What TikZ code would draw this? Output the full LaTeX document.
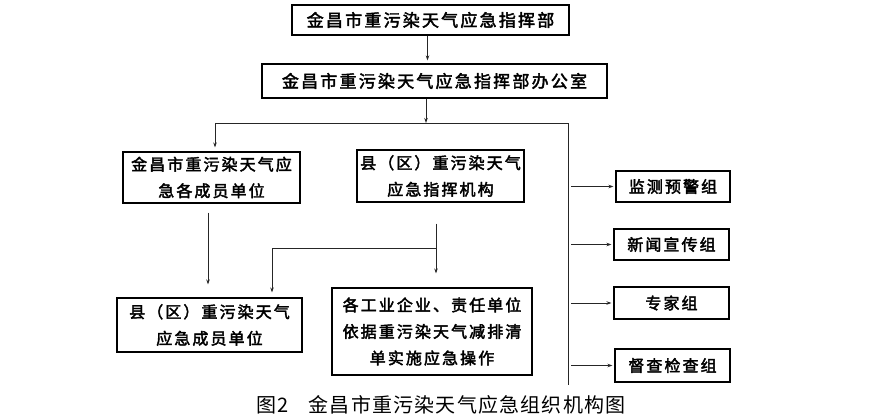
\documentclass[tikz,border=0pt]{standalone}
\usepackage{fontspec}
\setmainfont{Noto Sans CJK SC}
\newfontfamily\boxfont[LetterSpace=13,FakeBold=2.5]{Noto Sans CJK SC}
\newfontfamily\capfont[LetterSpace=6]{Noto Sans CJK SC}
\usetikzlibrary{arrows.meta}

\tikzset{
  box/.style={draw, line width=1.1pt, inner sep=0pt, align=center, font=\boxfont\fontsize{16}{26.5}\selectfont},
  topbox/.style={box, font=\boxfont\fontsize{17}{26}\selectfont},
  link/.style={draw=black!85, line width=0.9pt},
  arr/.style={link, -{Stealth[length=5pt,width=3.5pt]}}
}

\begin{document}
\begin{tikzpicture}[x=1pt, y=-1pt]
        \useasboundingbox (0,0) rectangle (885,419);

        % ---- command levels ------------------------------
        \node[topbox, minimum width=277pt, minimum height=30pt] (hq)     at (430.5,20)  {金昌市重污染天气应急指挥部};
        \node[topbox, minimum width=345pt, minimum height=34pt] (office) at (434.5,81)  {金昌市重污染天气应急指挥部办公室};

        % ---- units under the office ----------------------
        \node[box, minimum width=177pt, minimum height=51pt] (cityunits)   at (211.5,177.5) {金昌市重污染天气应\\急各成员单位};
        \node[box, minimum width=167pt, minimum height=52pt] (countycmd)   at (440.5,176)   {县（区）重污染天气\\应急指挥机构};
        \node[box, minimum width=185pt, minimum height=54pt] (countyunits) at (209.5,325)   {县（区）重污染天气\\应急成员单位};
        \node[box, minimum width=200pt, minimum height=87pt] (firms)       at (432,331.5)   {各工业企业、责任单位\\依据重污染天气减排清\\单实施应急操作};

        % ---- working groups on the right -----------------
        \node[box, minimum width=114pt, minimum height=31pt] (monitor) at (673,186.5) {监测预警组};
        \node[box, minimum width=115pt, minimum height=31pt] (news)    at (671.5,244.5) {新闻宣传组};
        \node[box, minimum width=115pt, minimum height=32pt] (expert)  at (671.5,303) {专家组};
        \node[box, minimum width=115pt, minimum height=33pt] (inspect) at (672.5,365.5) {督查检查组};

        % ---- junction points -----------------------------
        \coordinate (split) at (426,123);
        \coordinate (busend) at (568,385);
        \coordinate (fork) at (436,248);

        % ---- connectors ----------------------------------
        \draw[arr, shorten >=3pt] ([xshift=-3pt]hq.south) -- ([xshift=-3pt]hq.south |- office.north);
        \draw[arr] (split |- office.south) -- (split);
        \draw[link] (215,0 |- split) -- (busend |- split) -- (busend);
        \draw[arr, shorten >=4pt] (215,0 |- split) -- (215,0 |- cityunits.north);
        \draw[arr, shorten <=9pt, shorten >=13pt] (208,0 |- cityunits.south) -- (208,0 |- countyunits.north);
        \draw[arr, shorten <=21pt, shorten >=14pt] (fork |- countycmd.south) -- (fork |- firms.north);
        \draw[arr, shorten >=5pt] (fork) -| (272,0 |- countyunits.north);
        \foreach \grp in {monitor, news, expert, inspect}
          \draw[arr, shorten <=3pt, shorten >=2pt] (busend |- \grp.west) -- (\grp.west);

        % ---- caption -------------------------------------
        \node[font=\capfont\fontsize{20}{22}\selectfont] (caption) at (441,405) {图2\quad 金昌市重污染天气应急组织机构图};
    \end{tikzpicture}
\end{document}
